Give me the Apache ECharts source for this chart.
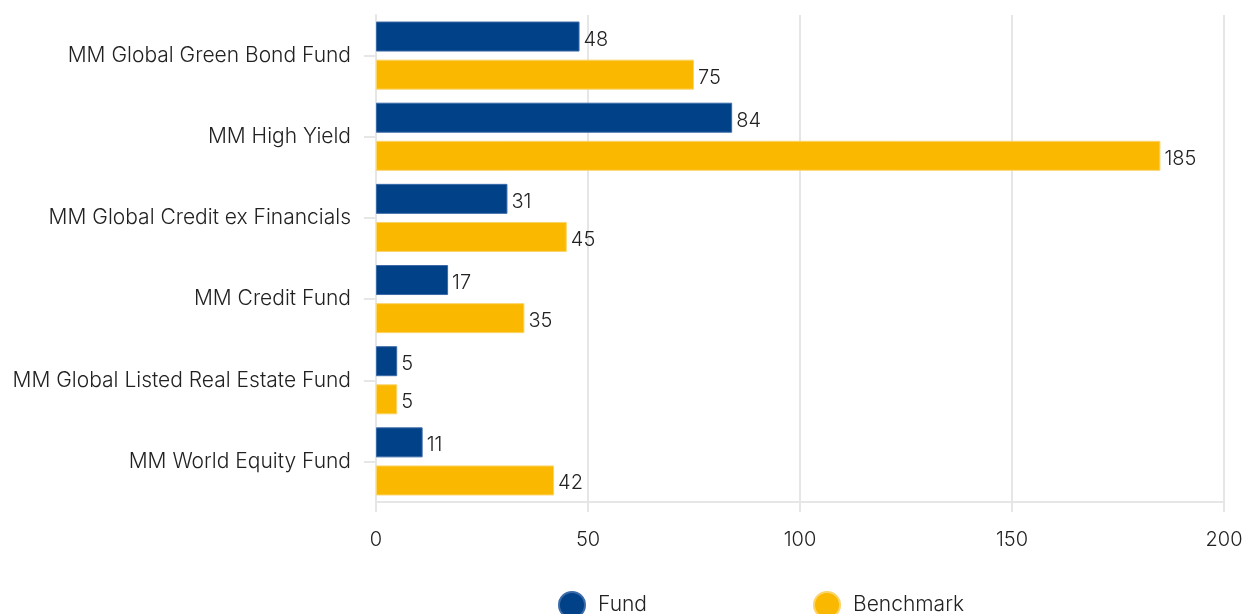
<!DOCTYPE html>
<html>
<head>
<meta charset="utf-8">
<script src="https://cdn.jsdelivr.net/npm/echarts@6/dist/echarts.min.js"></script>
<style>html,body{margin:0;padding:0;background:#fff}#c{width:1246px;height:614px}</style>
</head>
<body>
<div id="c"></div>
<script>
const categories = ["MM Global Green Bond Fund","MM High Yield","MM Global Credit ex Financials","MM Credit Fund","MM Global Listed Real Estate Fund","MM World Equity Fund"];
const fundValues = [48, 84, 31, 17, 5, 11];
const benchmarkValues = [75, 185, 45, 35, 5, 42];
const xTicks = [0, 50, 100, 150, 200];

const chart = echarts.init(document.getElementById('c'), null, {renderer:'canvas'});
const font = 'Inter, Roboto, sans-serif';
const labelStyle = {show:true, position:'right', distance:4, offset:[0,3], color:'#222', fontSize:20, fontWeight:300, fontFamily:font};
chart.setOption({
  animation:false,
  textStyle:{fontFamily:font},
  grid:{left:376, right:22, top:15, bottom:112, containLabel:false},
  legend:{
    data:['Fund','Benchmark'], left:558, top:591, padding:0, icon:'circle', itemWidth:26, itemHeight:26, itemGap:166,
    textStyle:{fontSize:21, color:'#222', fontWeight:300, fontFamily:font, padding:[6,0,0,8]}
  },
  xAxis:{
    type:'value', min:xTicks[0], max:xTicks[xTicks.length-1], interval:50,
    axisLine:{show:true, lineStyle:{color:'#e6e6e6', width:2}},
    axisTick:{show:true, length:10, lineStyle:{color:'#e6e6e6', width:2}},
    splitLine:{show:true, lineStyle:{color:'#e6e6e6', width:2}},
    axisLabel:{fontSize:20, color:'#222', fontWeight:300, margin:28, fontFamily:font}
  },
  yAxis:{
    type:'category', data:categories, inverse:true,
    axisLine:{show:true, lineStyle:{color:'#e6e6e6', width:2}},
    axisTick:{show:true, alignWithLabel:true, length:12, lineStyle:{color:'#e6e6e6', width:2}},
    axisLabel:{fontSize:21, color:'#222', fontWeight:300, margin:25, fontFamily:font, padding:[4,0,0,0]}
  },
  series:[
    {name:'Fund', type:'bar', data:fundValues, barWidth:30, barGap:'27%',
     itemStyle:{color:'#004187', borderColor:'#3a6aa8', borderWidth:1}, label:labelStyle},
    {name:'Benchmark', type:'bar', data:benchmarkValues, barWidth:30,
     itemStyle:{color:'#fab800', borderColor:'#fbd46a', borderWidth:1}, label:labelStyle}
  ]
});
</script>
</body>
</html>
